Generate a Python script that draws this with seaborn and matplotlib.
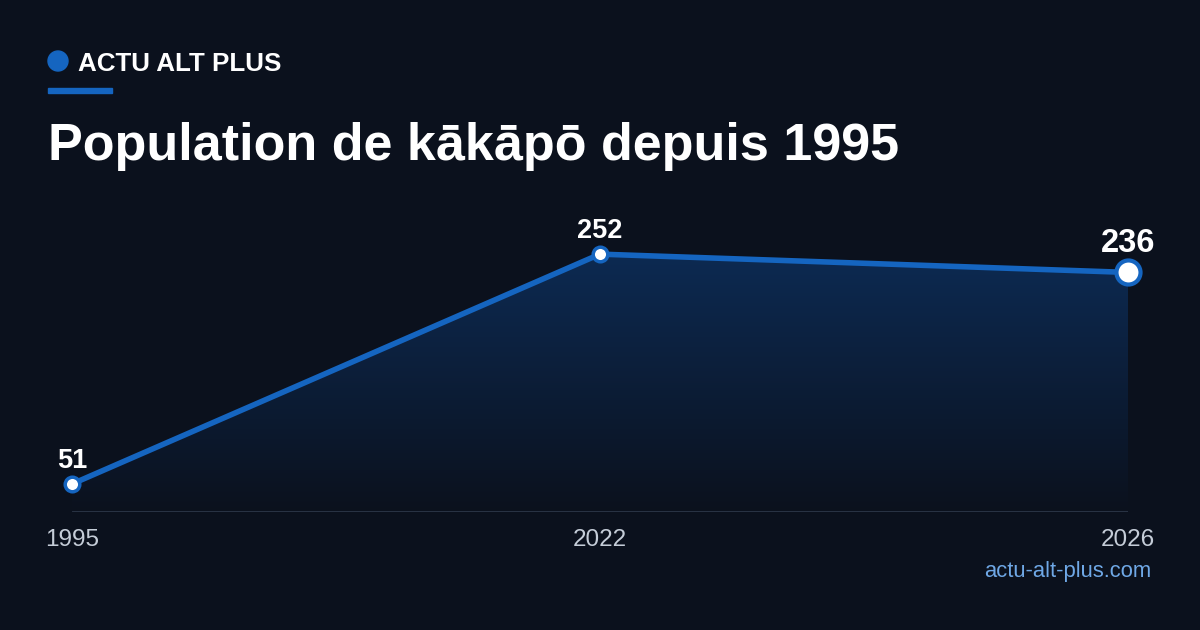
import numpy as np
import pandas as pd
import matplotlib
matplotlib.use("Agg")
import matplotlib.pyplot as plt
import seaborn as sns
from matplotlib.patches import Polygon, Ellipse, Rectangle

# data
years = ["1995", "2022", "2026"]
population = [51, 252, 236]

bg = "#0b111d"
blue = "#1565c0"

sns.set_style("dark")
plt.rcParams["font.family"] = ["Liberation Sans", "DejaVu Sans"]

df = pd.DataFrame({"pos": range(len(years)), "year": years, "pop": population})

fig = plt.figure(figsize=(12, 6.3), dpi=100, facecolor=bg)
ax = fig.add_axes([0.06, 0.1873, 0.88, 0.495])
ax.set_facecolor(bg)

ymin, ymax = 26.5, 299.2
ax.set_xlim(0, len(years) - 1)
ax.set_ylim(ymin, ymax)

# gradient under the line
grad = np.linspace(1, 0, 256).reshape(-1, 1)
cmap = matplotlib.colors.LinearSegmentedColormap.from_list("g", [bg, "#0d2a52"])
top = max(population)
im = ax.imshow(grad, extent=[0, len(years) - 1, ymin, top], aspect="auto",
               cmap=cmap, origin="upper", zorder=1)
verts = [(0, ymin)] + list(zip(df["pos"], df["pop"])) + [(len(years) - 1, ymin)]
clip = Polygon(verts, closed=True, transform=ax.transData, facecolor="none", edgecolor="none")
ax.add_patch(clip)
im.set_clip_path(clip)

sns.lineplot(data=df, x="pos", y="pop", color=blue, linewidth=4, ax=ax, zorder=3)
ax.scatter(df["pos"][:-1], df["pop"][:-1], s=110, color="white", edgecolor=blue,
           linewidth=2.5, zorder=4, clip_on=False)
ax.scatter(df["pos"][-1:], df["pop"][-1:], s=300, color="white", edgecolor=blue,
           linewidth=3, zorder=4, clip_on=False)

for i, (p, v) in enumerate(zip(df["pos"], df["pop"])):
    last = i == len(years) - 1
    ax.annotate(str(v), (p, v), xytext=(0, 10 if last else 7), textcoords="offset points",
                ha="center", va="bottom", color="white", fontweight="bold",
                fontsize=23.5 if last else 19.5, annotation_clip=False)

ax.axhline(ymin, color="#2c3748", linewidth=2, zorder=2)
ax.set_xticks(df["pos"])
ax.set_xticklabels(years)
ax.tick_params(axis="x", colors="#c5cdd8", labelsize=17.5, length=0, pad=12)
ax.set_yticks([])
ax.set_xlabel("")
ax.set_ylabel("")
ax.grid(False)
for s in ax.spines.values():
    s.set_visible(False)

# header
fig.patches.append(Ellipse((58 / 1200, 1 - 61 / 630), 20 / 1200, 20 / 630,
                           transform=fig.transFigure, color=blue))
fig.text(78 / 1200, 1 - 64 / 630, "ACTU ALT PLUS", color="white", fontsize=18.7,
         fontweight="bold", va="center")
fig.patches.append(Rectangle((48 / 1200, 1 - 93 / 630), 64 / 1200, 5 / 630,
                             transform=fig.transFigure, color=blue))
fig.text(48 / 1200, 1 - 160 / 630, "Population de kākāpō depuis 1995", color="white",
         fontsize=37.5, fontweight="bold", va="baseline")
fig.text(1151 / 1200, 1 - 571 / 630, "actu-alt-plus.com", color="#6fa8e6", fontsize=15.8,
         ha="right", va="center")

fig.savefig("out.png", dpi=100, facecolor=bg)
